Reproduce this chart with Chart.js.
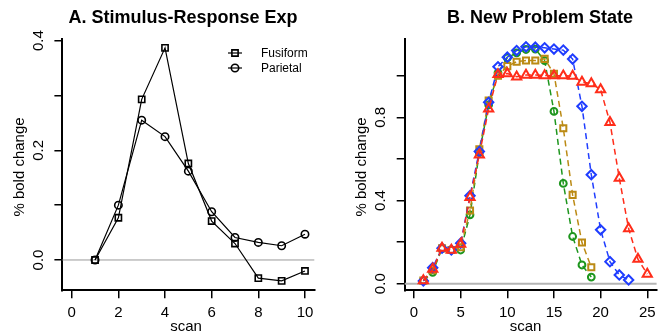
<!DOCTYPE html>
<html>
<head>
<meta charset="utf-8">
<script src="https://cdn.jsdelivr.net/npm/chart.js@4.4.0/dist/chart.umd.min.js"></script>
<style>
  html, body { margin: 0; padding: 0; background: #fff; }
  #wrap { position: relative; width: 666px; height: 335px; }
  canvas { position: absolute; top: 0; }
  #chartA { left: 0; }
  #chartB { left: 333px; }
</style>
</head>
<body>
<div id="wrap">
  <canvas id="chartA" width="333" height="335"></canvas>
  <canvas id="chartB" width="333" height="335"></canvas>
</div>
<script>
// Panel A: stimulus-response experiment
const scanA = [1, 2, 3, 4, 5, 6, 7, 8, 9, 10];
const fusiform = [0.000, 0.077, 0.293, 0.387, 0.176, 0.071, 0.030, -0.033, -0.038, -0.020];
const parietal = [0.000, 0.100, 0.255, 0.225, 0.162, 0.088, 0.041, 0.032, 0.026, 0.047];
const xTicksA = [0, 2, 4, 6, 8, 10];
const yTicksA = [0, 0.1, 0.2, 0.3, 0.4];
const yLabelsA = ["0.0", "", "0.2", "", "0.4"];

// Panel B: new problem state
const scanB = [1, 2, 3, 4, 5, 6, 7, 8, 9, 10, 11, 12, 13, 14, 15, 16, 17, 18, 19, 20, 21, 22, 23, 24, 25];
const greenVals = [0.015, 0.055, 0.170, 0.162, 0.162, 0.331, 0.630, 0.860, 1.014, 1.086, 1.110, 1.126, 1.128, 1.072, 0.828, 0.482, 0.227, 0.090, 0.032];
const goldVals = [0.015, 0.065, 0.170, 0.162, 0.175, 0.352, 0.646, 0.880, 1.000, 1.046, 1.067, 1.073, 1.073, 1.081, 1.009, 0.747, 0.427, 0.198, 0.079];
const blueVals = [0.013, 0.077, 0.171, 0.162, 0.195, 0.423, 0.636, 0.872, 1.043, 1.089, 1.121, 1.139, 1.137, 1.134, 1.128, 1.123, 1.080, 0.853, 0.524, 0.259, 0.106, 0.042, 0.018];
const redVals = [0.015, 0.070, 0.171, 0.162, 0.190, 0.415, 0.620, 0.840, 1.006, 1.010, 0.995, 1.003, 1.003, 1.001, 1.000, 1.000, 0.998, 0.969, 0.962, 0.933, 0.776, 0.508, 0.265, 0.118, 0.046];
const xTicksB = [0, 5, 10, 15, 20, 25];
const yTicksB = [0, 0.2, 0.4, 0.6, 0.8, 1.0];
const yLabelsB = ["0.0", "", "0.4", "", "0.8", ""];

const FONT = "'Liberation Sans', Arial, Helvetica, sans-serif";
Chart.defaults.font.family = FONT;
Chart.defaults.color = "#000";

function pts(xs, ys) {
  return ys.map((y, i) => ({ x: xs[i], y: y }));
}

function marker(ctx, style, x, y, r) {
  ctx.beginPath();
  if (style === "rect") {
    const s = r * Math.SQRT1_2;
    ctx.rect(x - s, y - s, 2 * s, 2 * s);
  } else {
    ctx.arc(x, y, r, 0, Math.PI * 2);
  }
  ctx.stroke();
}

// R-style decorations: zero line, titles, rotated y labels, legend
const rDeco = {
  id: "rdeco",
  beforeDatasetsDraw(chart, args, o) {
    const { ctx, chartArea: a, scales: { y } } = chart;
    const py = y.getPixelForValue(0);
    ctx.save();
    ctx.strokeStyle = o.zeroColor;
    ctx.lineWidth = o.zeroWidth;
    ctx.beginPath();
    ctx.moveTo(a.left, py);
    ctx.lineTo(a.right, py);
    ctx.stroke();
    ctx.restore();
  },
  afterDraw(chart, args, o) {
    const { ctx, chartArea: a, scales: { y } } = chart;
    ctx.save();
    ctx.fillStyle = "#000";
    ctx.textAlign = "center";
    ctx.textBaseline = "middle";

    ctx.font = "bold 18px " + FONT;
    ctx.fillText(o.title, o.titleX, 18);

    ctx.font = "15px " + FONT;
    ctx.fillText("scan", o.xTitleX, 326.5);

    y.ticks.forEach((t, i) => {
      const lab = o.yLabels[i];
      if (!lab) return;
      ctx.save();
      ctx.translate(a.left - 24, y.getPixelForValue(t.value));
      ctx.rotate(-Math.PI / 2);
      ctx.fillText(lab, 0, 0);
      ctx.restore();
    });

    ctx.save();
    ctx.translate(a.left - 43, 167);
    ctx.rotate(-Math.PI / 2);
    ctx.fillText("% bold change", 0, 0);
    ctx.restore();

    if (o.legend) {
      ctx.font = "12px " + FONT;
      ctx.textAlign = "left";
      chart.data.datasets.forEach((ds, i) => {
        const ly = o.legend.y + i * o.legend.gap;
        ctx.strokeStyle = ds.borderColor;
        ctx.lineWidth = 1.2;
        ctx.beginPath();
        ctx.moveTo(o.legend.x, ly);
        ctx.lineTo(o.legend.x + 14, ly);
        ctx.stroke();
        ctx.lineWidth = ds.pointBorderWidth;
        marker(ctx, ds.pointStyle, o.legend.x + 7, ly, ds.pointRadius);
        ctx.fillText(ds.label, o.legend.x + 33, ly + 1);
      });
    }
    ctx.restore();
  }
};

function axes(cfg) {
  return {
    x: {
      type: "linear",
      min: cfg.xmin,
      max: cfg.xmax,
      afterBuildTicks: s => { s.ticks = cfg.xTicks.map(v => ({ value: v })); },
      afterFit: s => { s.height = 335 - 290.3; },
      grid: { drawOnChartArea: false, drawTicks: true, tickLength: 8, color: "#000", lineWidth: 1.5 },
      border: { display: true, color: "#000", width: 2 },
      ticks: { font: { size: 15 }, color: "#000", padding: 6, maxRotation: 0, callback: v => String(v) }
    },
    y: {
      type: "linear",
      min: cfg.ymin,
      max: cfg.ymax,
      afterBuildTicks: s => { s.ticks = cfg.yTicks.map(v => ({ value: v })); },
      afterFit: s => { s.width = cfg.left; },
      grid: { drawOnChartArea: false, drawTicks: true, tickLength: 8, color: "#000", lineWidth: 1.5 },
      border: { display: true, color: "#000", width: 2 },
      ticks: { display: false }
    }
  };
}

const common = {
  responsive: false,
  animation: false,
  events: [],
  plugins: { legend: { display: false }, tooltip: { enabled: false } }
};

// Panel A
new Chart(document.getElementById("chartA").getContext("2d"), {
  type: "scatter",
  data: {
    datasets: [
      {
        label: "Fusiform",
        data: pts(scanA, fusiform),
        showLine: true,
        borderColor: "#000",
        borderWidth: 1.2,
        pointStyle: "rect",
        pointRadius: 4.4,
        pointBorderWidth: 1.6,
        pointBorderColor: "#000",
        pointBackgroundColor: "rgba(0,0,0,0)"
      },
      {
        label: "Parietal",
        data: pts(scanA, parietal),
        showLine: true,
        borderColor: "#000",
        borderWidth: 1.2,
        pointStyle: "circle",
        pointRadius: 3.7,
        pointBorderWidth: 1.6,
        pointBorderColor: "#000",
        pointBackgroundColor: "rgba(0,0,0,0)"
      }
    ]
  },
  options: Object.assign({}, common, {
    layout: { autoPadding: false, padding: { left: 0, right: 18.7, top: 38.5, bottom: 0 } },
    scales: axes({ xmin: -0.4, xmax: 10.4, ymin: -0.0553, ymax: 0.404, xTicks: xTicksA, yTicks: yTicksA, left: 62.4 }),
    plugins: Object.assign({}, common.plugins, {
      rdeco: {
        title: "A. Stimulus-Response Exp", titleX: 183, xTitleX: 186,
        yLabels: yLabelsA, zeroColor: "#9a9a9a", zeroWidth: 1,
        legend: { x: 228, y: 53, gap: 15 }
      }
    })
  }),
  plugins: [rDeco]
});

// Panel B
function seriesB(vals, color, style, radius) {
  return {
    data: pts(scanB, vals),
    showLine: true,
    borderColor: color,
    borderWidth: 1.5,
    borderDash: [6, 4],
    pointStyle: style,
    pointRadius: radius,
    pointBorderWidth: 2,
    pointBorderColor: color,
    pointBackgroundColor: "rgba(0,0,0,0)"
  };
}

new Chart(document.getElementById("chartB").getContext("2d"), {
  type: "scatter",
  data: {
    datasets: [
      seriesB(redVals, "#ff2d1a", "triangle", 5.3),
      seriesB(blueVals, "#1f3dff", "rectRot", 4.7),
      seriesB(goldVals, "#bb8a14", "rect", 4.3),
      seriesB(greenVals, "#1e961e", "circle", 3.4)
    ]
  },
  options: Object.assign({}, common, {
    layout: { autoPadding: false, padding: { left: 0, right: 9.4, top: 38.5, bottom: 0 } },
    scales: axes({ xmin: -1, xmax: 26, ymin: -0.0317, ymax: 1.1788, xTicks: xTicksB, yTicks: yTicksB, left: 71.7 }),
    plugins: Object.assign({}, common.plugins, {
      rdeco: {
        title: "B. New Problem State", titleX: 207, xTitleX: 192.5,
        yLabels: yLabelsB, zeroColor: "#b4b4b4", zeroWidth: 2
      }
    })
  }),
  plugins: [rDeco]
});
</script>
</body>
</html>
